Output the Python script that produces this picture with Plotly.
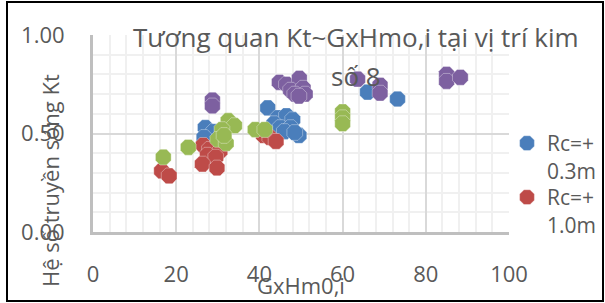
import plotly.graph_objects as go

# ---- data ----
blue_x = [27.0, 29.0, 26.7, 42.0, 44.5, 46.5, 48.0, 43.5, 45.0, 47.5, 46.0, 49.5, 48.5, 66.0, 73.2]
blue_y = [0.53, 0.51, 0.48, 0.63, 0.58, 0.59, 0.57, 0.55, 0.53, 0.53, 0.51, 0.49, 0.505, 0.71, 0.675]

red_x = [16.5, 18.3, 26.5, 28.0, 30.5, 27.5, 29.5, 26.3, 29.8, 41.0, 42.5, 44.0]
red_y = [0.31, 0.285, 0.44, 0.42, 0.41, 0.39, 0.38, 0.345, 0.325, 0.49, 0.48, 0.46]

green_x = [16.9, 22.9, 32.5, 34.0, 31.0, 30.0, 32.0, 31.5, 39.0, 41.3, 60.0, 60.0, 60.0]
green_y = [0.38, 0.43, 0.565, 0.54, 0.52, 0.47, 0.45, 0.49, 0.52, 0.52, 0.61, 0.58, 0.55]

purple_x = [28.7, 28.7, 44.8, 46.5, 49.6, 47.5, 50.5, 48.5, 51.0, 49.5, 63.6, 69.0, 69.0, 85.0, 85.0, 88.3]
purple_y = [0.67, 0.64, 0.76, 0.75, 0.78, 0.72, 0.73, 0.70, 0.70, 0.69, 0.776, 0.745, 0.705, 0.80, 0.765, 0.785]

series_names = ["Rc=+<br>0.3m", "Rc=+<br>1.0m", "green", "purple"]
series_colors = ["#4A7EBB", "#BE4B48", "#98B954", "#7D60A0"]

title_line1 = "Tương quan Kt~GxHmo,i tại vị trí kim"
title_line2 = "số 8"
x_title = "GxHm0,i"
y_title = "Hệ số truyền sóng Kt"

FONT = "Open Sans, Lato, DejaVu Sans, sans-serif"
TXT = "#595959"

W, H = 605, 303
ML, MR, MT, MB = 93, 96, 35, 71
PW, PH = W - ML - MR, H - MT - MB


def px_to_paper(px, py):
    return (px - ML) / PW, (H - MB - py) / PH


fig = go.Figure()
data = [(blue_x, blue_y), (red_x, red_y), (green_x, green_y), (purple_x, purple_y)]
legend_ids = ["legend", "legend2", None, None]
for i, ((xs, ys), name, col) in enumerate(zip(data, series_names, series_colors)):
    kw = dict(x=xs, y=ys, mode="markers", name=name,
              showlegend=(legend_ids[i] is not None),
              marker=dict(symbol="octagon", size=17, color=col,
                          line=dict(width=1, color="rgba(255,255,255,0.35)")))
    if legend_ids[i] is not None:
        kw["legend"] = legend_ids[i]
    fig.add_trace(go.Scatter(**kw))

annos = []
for txt, (px, py), size in [(title_line1, (356, 37), 26), (title_line2, (356, 76), 26)]:
    ax, ay = px_to_paper(px, py)
    annos.append(dict(text=txt, x=ax, y=ay, xref="paper", yref="paper",
                      xanchor="center", yanchor="middle", showarrow=False,
                      font=dict(family=FONT, size=size, color=TXT)))
ax, ay = px_to_paper(301, 285)
annos.append(dict(text=x_title, x=ax, y=ay, xref="paper", yref="paper",
                  xanchor="center", yanchor="middle", showarrow=False,
                  font=dict(family=FONT, size=22, color=TXT)))
ax, ay = px_to_paper(50, 181)
annos.append(dict(text=y_title, x=ax, y=ay, xref="paper", yref="paper",
                  xanchor="center", yanchor="middle", showarrow=False, textangle=-90,
                  font=dict(family=FONT, size=22, color=TXT)))

x0, y0 = px_to_paper(7, 2)
x1, y1 = px_to_paper(603, 301)
shapes = [dict(type="rect", xref="paper", yref="paper", x0=x0, y0=y1, x1=x1, y1=y0,
               line=dict(color="#000000", width=2), fillcolor="rgba(0,0,0,0)", layer="above")]

lx, ly1 = px_to_paper(507, 123)
_, ly2 = px_to_paper(507, 177)
leg_common = dict(xanchor="left", yanchor="top", valign="top",
                  font=dict(family=FONT, size=21, color=TXT),
                  bgcolor="rgba(0,0,0,0)", borderwidth=0)

fig.update_layout(
    width=W, height=H,
    margin=dict(l=ML, r=MR, t=MT, b=MB, autoexpand=False),
    paper_bgcolor="white", plot_bgcolor="white",
    font=dict(family=FONT, size=21, color=TXT),
    annotations=annos, shapes=shapes,
    legend=dict(x=lx, y=ly1, **leg_common),
    legend2=dict(x=lx, y=ly2, **leg_common),
    xaxis=dict(range=[0, 100], tickvals=[0, 20, 40, 60, 80, 100],
               showgrid=True, gridcolor="#D9D9D9", gridwidth=2,
               minor=dict(dtick=4, showgrid=True, gridcolor="#F0F0F0", gridwidth=2),
               showline=True, linecolor="#BFBFBF", linewidth=3,
               zeroline=False, ticks="outside", ticklen=21, tickcolor="rgba(0,0,0,0)",
               tickfont=dict(family=FONT, size=22, color=TXT), fixedrange=True),
    yaxis=dict(range=[0, 1], tickvals=[0, 0.5, 1], tickformat=".2f",
               showgrid=True, gridcolor="#D9D9D9", gridwidth=2,
               minor=dict(dtick=0.1, showgrid=True, gridcolor="#F0F0F0", gridwidth=2),
               showline=True, linecolor="#BFBFBF", linewidth=3,
               zeroline=False, ticks="outside", ticklen=21, tickcolor="rgba(0,0,0,0)",
               tickfont=dict(family=FONT, size=22, color=TXT), fixedrange=True),
)

fig.write_html("out.html", config={"displayModeBar": False},
               post_script="document.body.style.margin='0px';document.body.style.overflow='hidden';")
